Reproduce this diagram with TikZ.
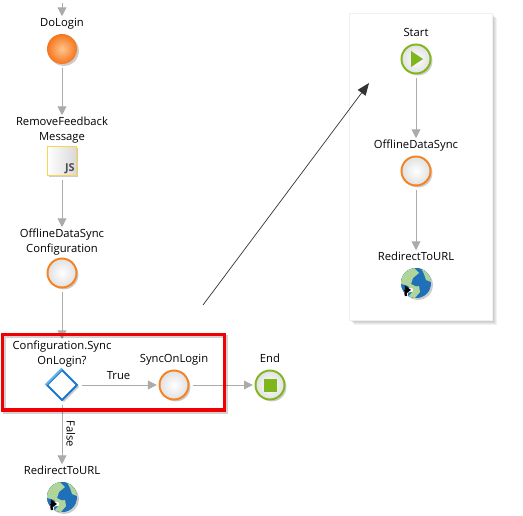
\documentclass[tikz,border=0pt]{standalone}
\usepackage{fontspec}
\setmainfont{Open Sans}
\usepackage{xcolor}
\usepackage{tikz}
\usetikzlibrary{arrows.meta}
\usetikzlibrary{shapes.geometric, calc, shadows}

\definecolor{flowgrey}{HTML}{ABABAB}
\definecolor{ringorange}{HTML}{F58220}
\definecolor{ringgreen}{HTML}{7FB61B}
\definecolor{jsyellow}{HTML}{FFD34E}
\definecolor{diamblue}{HTML}{1B78D0}
\definecolor{diamlight}{HTML}{62B4EA}
\definecolor{boxred}{HTML}{F00000}
\definecolor{globeblue}{HTML}{1F70B8}
\definecolor{globegreen}{HTML}{AFD59A}

\tikzset{
  softshadow/.style={drop shadow={shadow xshift=1.1pt, shadow yshift=-1.1pt, opacity=.2, fill=black}},
  flow/.style={draw=flowgrey, line width=0.55pt, -{Triangle[width=5pt, length=5pt]}, shorten <=1.8pt, shorten >=1pt},
  lbl/.style={font=\fontsize{6.4}{8.5}\selectfont, inner sep=0pt, align=center, anchor=north, text=black},
  action/.style={circle, minimum size=0.58cm, inner sep=0pt, draw=ringorange, line width=1.1pt, inner color=white, outer color=black!12, softshadow},
  terminal/.style={action, draw=ringgreen},
}

% globe icon with the small shortcut arrow
\newcommand{\globeicon}[1]{
  \begin{scope}[shift={(#1)}]
    \begin{scope}
      \clip (0,0) circle (15);
      \fill[globeblue] (-15,-15) rectangle (15,15);
      \fill[globegreen] (-15,-15) -- (-2,-15) -- (3,-10) -- (-3,-5) -- (-5,1) -- (1,4) -- (3,10) -- (-1,15) -- (-15,15) -- cycle;
      \fill[globeblue] (-15,1) -- (-8,3) -- (-4,9) -- (-9,15) -- (-15,15) -- cycle;
      \fill[globegreen] (5,-15) -- (15,-15) -- (15,-1) -- (10,-3) -- (8,-9) -- cycle;
      \fill[globegreen] (-3,4) -- (3,3) -- (4,9) -- (0,13) -- cycle;
    \end{scope}
    \draw[white, line width=2.4pt, line cap=round] (-10,13) .. controls (-11,9) and (-10,7) .. (-5,7);
    \draw[black, line width=1.3pt, -{Triangle[width=5pt, length=3.5pt]}] (-10,13) .. controls (-11,9) and (-10,7) .. (-5,7);
  \end{scope}
}

\begin{document}
\begin{tikzpicture}[x=0.02cm, y=-0.02cm]
  \useasboundingbox[fill=white] (0,0) rectangle (523,516);

  % Side panel
  \foreach \d in {1,2,3,4,5}
    \fill[black, opacity=.05] (349+\d,13+\d) rectangle (492+\d,320+\d);
  \fill[white] (349,13) rectangle (492,320);
  \draw[black!6, line width=0.4pt] (349,13) rectangle (492,320);

  % Main flow
  \coordinate (topEnd) at (62,0);
  \node[lbl] (doLoginText) at (62,18) {DoLogin};
  \node[circle, minimum size=0.6cm, inner sep=0pt, inner color=orange!45!white, outer color=ringorange!90!red, softshadow] (doLogin) at (62,49) {};
  \node[lbl] (removeText) at (62,117) {RemoveFeedback\\Message};
  \node[rectangle, minimum size=0.58cm, inner sep=0pt, draw=jsyellow, line width=1.1pt, left color=white, right color=black!15, softshadow] (removeJs) at (62,161) {};
  \node[font=\fontsize{6.2}{7}\selectfont\bfseries, inner sep=0pt, text=black!70, anchor=south east] (jsText) at (75,174) {JS};
  \node[lbl] (offlineConfText) at (62,229) {OfflineDataSync\\Configuration};
  \node[action] (offlineConf) at (62,273) {};
  \node[lbl] (checkText) at (62,341) {Configuration.Sync\\OnLogin?};
  \node[diamond, minimum size=0.62cm, inner sep=0pt, fill=white, draw=diamblue, line width=1.1pt, softshadow] (check) at (62,385) {};
  \draw[diamlight, line width=1.1pt] (check.west) -- (check.north);
  \node[lbl] (syncText) at (174,354) {SyncOnLogin};
  \node[action] (sync) at (174,385) {};
  \node[lbl] (endText) at (270,354) {End};
  \node[terminal] (endNode) at (270,385) {};
  \fill[ringgreen] ($(endNode)+(-6.5,-6.5)$) rectangle ($(endNode)+(6.5,6.5)$);
  \node[lbl] (redirectText) at (62,466) {RedirectToURL};
  \node[circle, minimum size=0.6cm, inner sep=0pt, fill=globeblue, softshadow] (redirect) at (62,497) {};
  \globeicon{redirect}

  % Panel flow
  \node[lbl] (startText) at (416,28) {Start};
  \node[terminal] (start) at (416,59) {};
  \fill[ringgreen] ($(start)+(-5,-8)$) -- ($(start)+(7,0)$) -- ($(start)+(-5,8)$) -- cycle;
  \node[lbl] (syncPanelText) at (416,140) {OfflineDataSync};
  \node[action] (syncPanel) at (416,171) {};
  \node[lbl] (redirectPanelText) at (416,252) {RedirectToURL};
  \node[circle, minimum size=0.6cm, inner sep=0pt, fill=globeblue, softshadow] (redirectPanel) at (416,283) {};
  \globeicon{redirectPanel}

  % Connectors
  \draw[flow] (topEnd) -- (doLoginText);
  \draw[flow] (doLogin) -- (removeText);
  \draw[flow] (removeJs) -- (offlineConfText);
  \draw[flow] (offlineConf) -- (checkText);
  \draw[flow] (check) -- node[midway, lbl, anchor=south, yshift=3pt] (trueText) {True} (sync);
  \draw[flow] (sync) -- (endNode);
  \draw[flow] (check) -- node[midway, lbl, anchor=center, rotate=-90, yshift=5pt] (falseText) {False} (redirectText);
  \draw[flow] (start) -- (syncPanelText);
  \draw[flow] (syncPanel) -- (redirectPanelText);

  % Red frame
  \draw[black, opacity=.18, line width=2pt] (4.5,336.5) rectangle (226.5,412);
  \draw[boxred, line width=2pt] (2.5,334.5) rectangle (224.5,410);

  % Jump to the side panel
  \coordinate (jumpStart) at (203,305);
  \coordinate (jumpEnd) at (369,83);
  \draw[black!80, line width=0.4pt, -{Triangle[width=5.5pt, length=7pt]}] (jumpStart) -- (jumpEnd);
\end{tikzpicture}
\end{document}
